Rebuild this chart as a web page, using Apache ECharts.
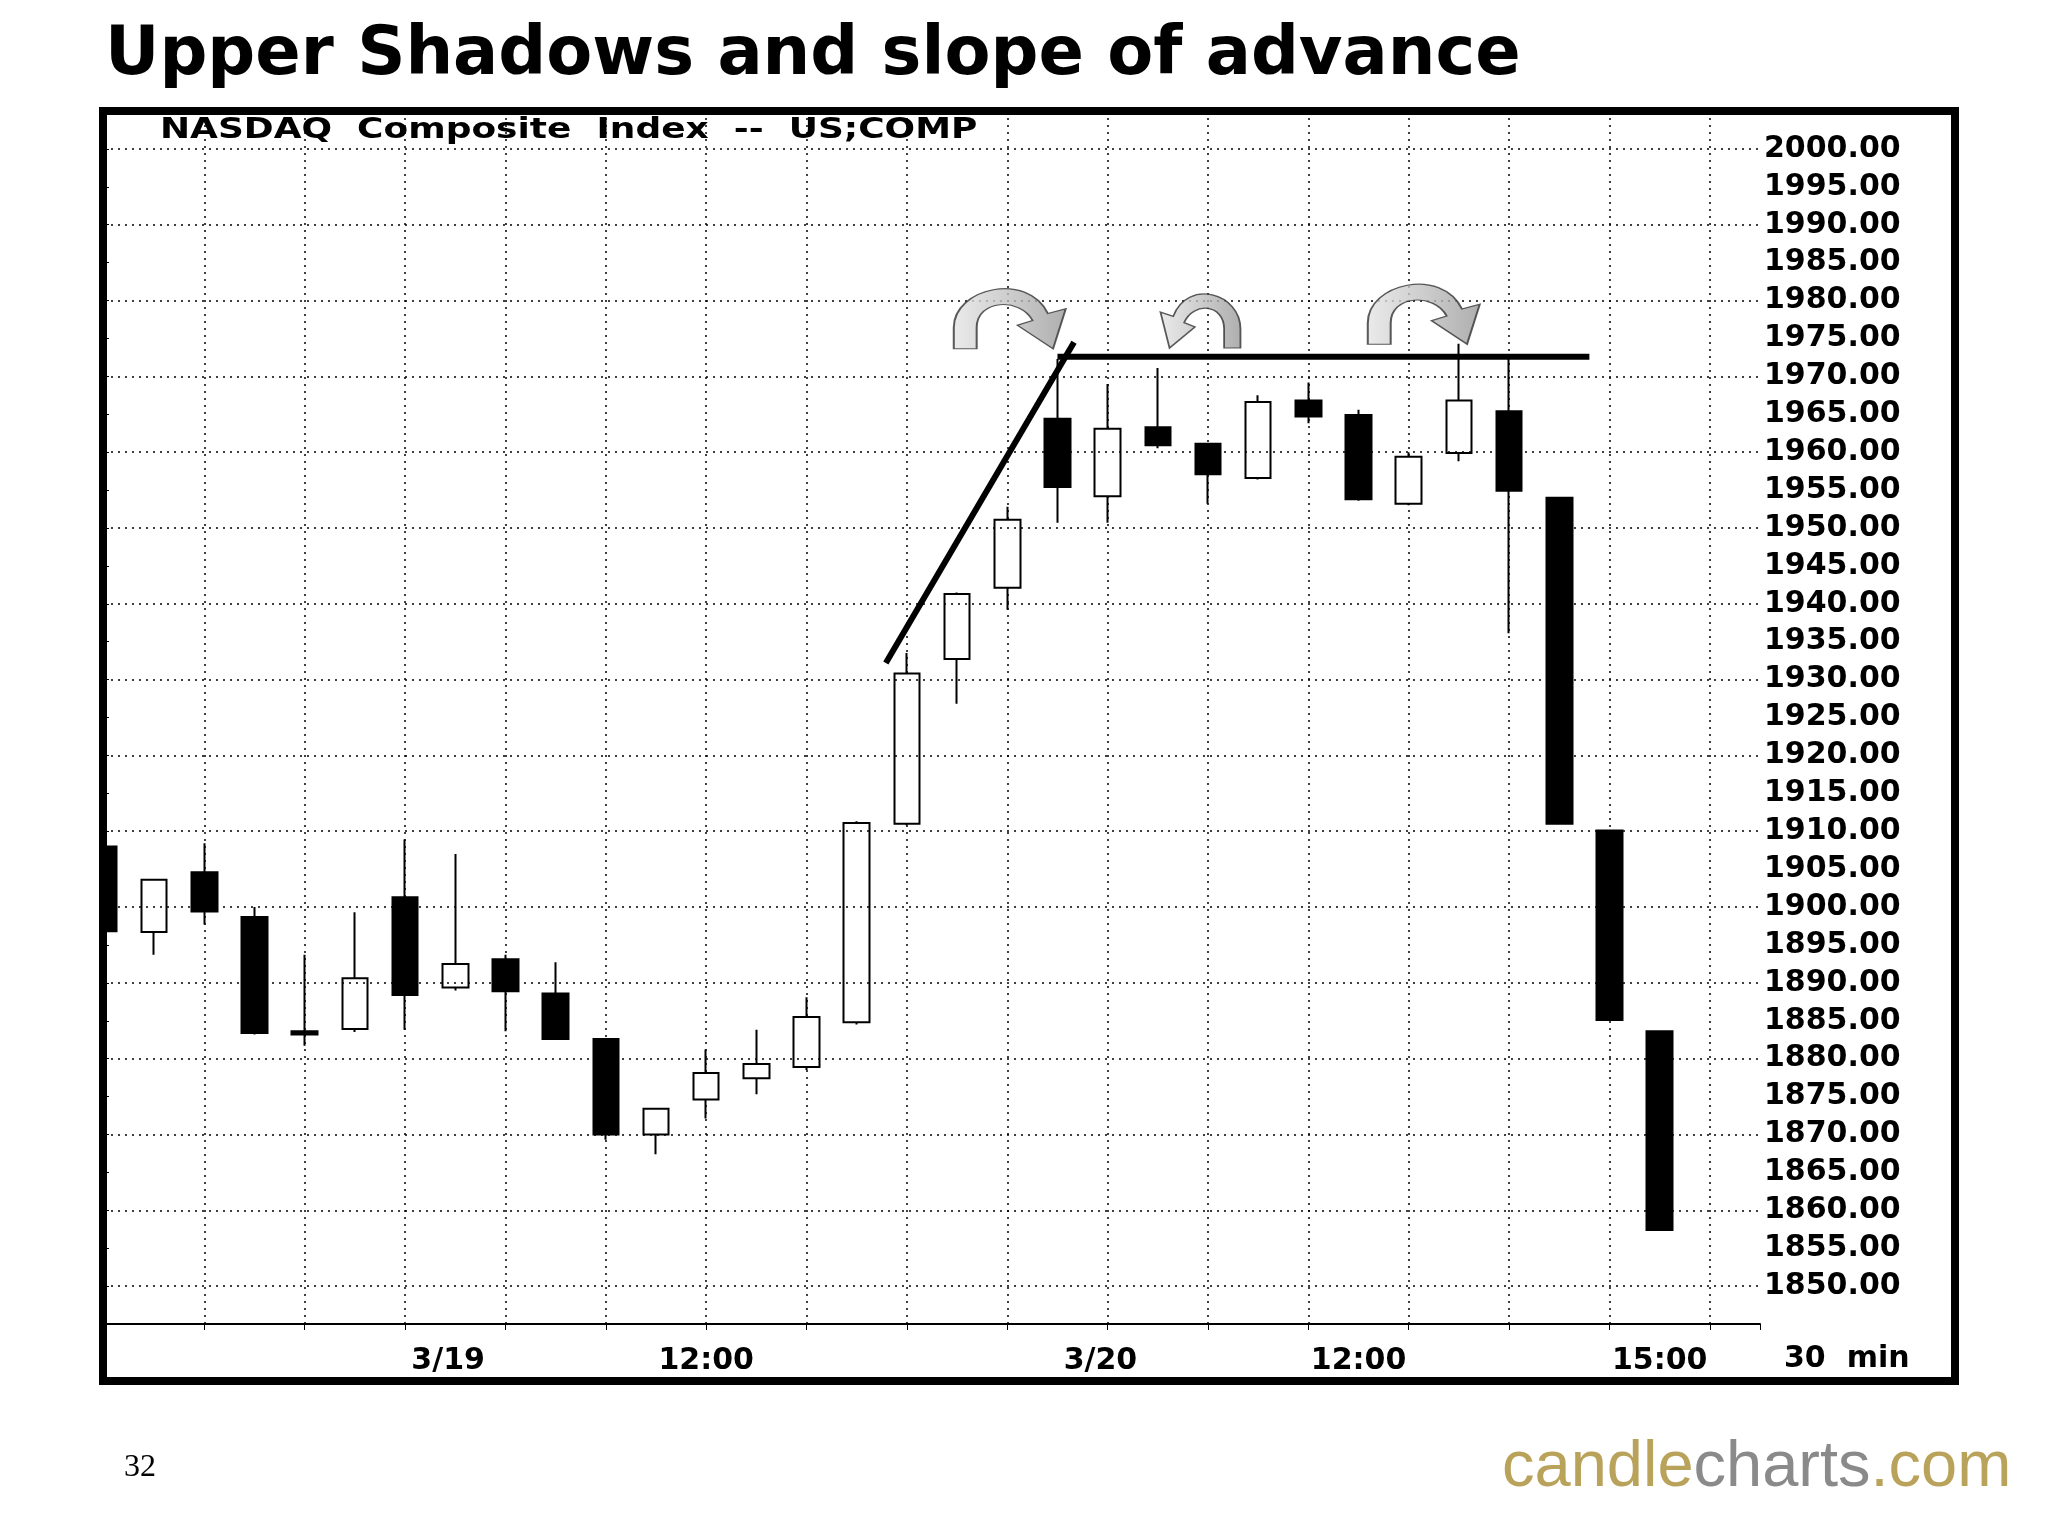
<!DOCTYPE html>
<html><head><meta charset="utf-8">
<script src="https://cdn.jsdelivr.net/npm/echarts@6/dist/echarts.min.js"></script>
<style>html,body{margin:0;padding:0;background:#fff}#c{width:2048px;height:1536px}</style>
</head><body><div id="c"></div>
<script>
// [open, close, low, high]
const candles = [
 [1908.0,1896.8,1896.5,1908.2],
 [1896.7,1903.6,1893.7,1903.6],
 [1904.6,1899.4,1897.7,1908.4],
 [1898.7,1883.4,1883.2,1900.0],
 [1883.6,1883.2,1881.7,1893.7],
 [1883.9,1890.6,1883.5,1899.3],
 [1901.3,1888.4,1883.8,1908.9],
 [1889.4,1892.5,1889.0,1907.0],
 [1893.1,1888.9,1883.6,1893.7],
 [1888.6,1882.6,1882.5,1892.7],
 [1882.6,1870.0,1869.3,1882.6],
 [1870.0,1873.4,1867.4,1873.4],
 [1874.6,1878.1,1872.1,1881.2],
 [1877.4,1879.3,1875.3,1883.8],
 [1878.9,1885.5,1878.5,1888.1],
 [1884.8,1911.1,1884.5,1911.3],
 [1911.0,1930.8,1910.8,1933.5],
 [1932.7,1941.3,1926.8,1941.5],
 [1942.1,1951.1,1939.2,1952.8],
 [1964.4,1955.4,1950.7,1972.3],
 [1954.2,1963.1,1950.7,1969.0],
 [1963.3,1960.9,1960.5,1971.1],
 [1961.1,1957.1,1953.2,1961.1],
 [1956.6,1966.6,1956.4,1967.5],
 [1966.8,1964.7,1963.8,1969.2],
 [1964.9,1953.8,1953.6,1965.6],
 [1953.2,1959.4,1953.0,1960.0],
 [1959.9,1966.8,1958.8,1974.3],
 [1965.4,1954.9,1936.1,1972.3],
 [1954.0,1911.0,1911.0,1954.0],
 [1910.1,1885.1,1885.1,1910.1],
 [1883.6,1857.4,1857.4,1883.6]
];
const xLabels = ['','','','','','','3/19','','','','','','12:00','','','','','','','3/20','','','','','','12:00','','','','','','15:00','',''];
const dateLabels = ['3/19','3/20'];
const gridLevels = [1850,1860,1870,1880,1890,1900,1910,1920,1930,1940,1950,1960,1970,1980,1990,2000];
const trendLine = [[15.58,1932.2],[19.33,1974.5]];
const resistLine = [[19.0,1972.6],[29.6,1972.6]];
const arrowsRight = [[18.05,1977.6],[26.3,1978.2]];
const arrowsLeft = [[21.85,1977.3]];

const pathR = 'path://M0,60 L0,42 C0,8 58,-6 74,30 L88,26 L78,60 L50,40 L62,36 C52,16 18,18 18,42 L18,60 Z';
const pathL = 'path://M100,60 L100,42 C100,8 42,-6 26,30 L12,26 L22,60 L50,40 L38,36 C48,16 82,18 82,42 L82,60 Z';
const arrowStyle = {color:{type:'linear',x:0,y:0,x2:1,y2:0,colorStops:[{offset:0,color:'#e6e6e6'},{offset:1,color:'#9a9a9a'}]},borderColor:'#333',borderWidth:1.5};
const lblFont = {color:'#000',fontFamily:'DejaVu Sans',fontWeight:'bold',fontSize:30};

const chart = echarts.init(document.getElementById('c'));
chart.setOption({
 animation:false,
 backgroundColor:'#fff',
 title:{text:'Upper Shadows and slope of advance',left:100,top:18,textStyle:{fontFamily:'DejaVu Sans',fontWeight:'bold',fontSize:67,color:'#000'}},
 graphic:[
  {type:'rect',z:100,shape:{x:103,y:111,width:1852,height:1270},style:{fill:'none',stroke:'#000',lineWidth:8}},
  {type:'rect',z:99,shape:{x:40,y:111,width:60,height:1270},style:{fill:'#fff'}},
  {type:'text',x:160,y:116,scaleX:1.24,style:{text:'NASDAQ  Composite  Index  --  US;COMP',font:'bold 29px "DejaVu Sans"',fill:'#000'}},
  {type:'text',left:1784,top:1344,style:{text:'30  min',font:'bold 30px "DejaVu Sans"',fill:'#000'}},
  {type:'text',left:124,top:1452,style:{text:'32',font:'32px "Liberation Serif"',fill:'#000'}},
  {type:'text',left:1502,top:1436,style:{rich:{a:{font:'65px "Liberation Sans"',fill:'#b9a25a'},b:{font:'65px "Liberation Sans"',fill:'#8a8a8a'}},text:'{a|candle}{b|charts}{a|.com}'}}
 ],
 grid:{left:104,right:288,top:111,bottom:212,show:false},
 xAxis:[
  {type:'category',data:xLabels,boundaryGap:false,
   axisLine:{lineStyle:{color:'#000',width:2}},
   axisTick:{show:true,interval:1,length:6,lineStyle:{color:'#000'}},
   axisLabel:Object.assign({interval:0,margin:22,
     formatter:v=>dateLabels.includes(v)?'{l|'+v+'}':v,rich:{l:Object.assign({padding:[0,0,0,86]},lblFont)}},lblFont),
   splitLine:{show:true,interval:i=>i>0&&i%2===0,lineStyle:{color:'#000',type:[2,5],width:1.5}}},
  {type:'value',min:0,max:33,show:false}
 ],
 yAxis:{type:'value',position:'right',min:1845,max:2005,interval:5,
   axisLine:{show:true,lineStyle:{color:'#000',width:2}},
   axisTick:{show:true,length:5,lineStyle:{color:'#000'}},
   axisLabel:Object.assign({margin:4,formatter:v=>(v<1850||v>2000)?'':v.toFixed(2)},lblFont),
   splitLine:{show:false}},
 series:[
  {type:'candlestick',data:candles,barWidth:26,clip:true,
   itemStyle:{color:'#fff',color0:'#000',borderColor:'#000',borderColor0:'#000',borderWidth:2},
   markLine:{silent:true,symbol:'none',label:{show:false},lineStyle:{color:'#000',type:[2,5],width:1.5},
     data:gridLevels.map(v=>({yAxis:v}))}},
  {type:'line',xAxisIndex:1,data:trendLine,symbol:'none',lineStyle:{color:'#000',width:6},z:5},
  {type:'line',xAxisIndex:1,data:resistLine,symbol:'none',lineStyle:{color:'#000',width:6},z:5},
  {type:'scatter',xAxisIndex:1,data:arrowsRight,symbol:pathR,symbolSize:[112,60],itemStyle:arrowStyle,z:6},
  {type:'scatter',xAxisIndex:1,data:arrowsLeft,symbol:pathL,symbolSize:[80,54],itemStyle:arrowStyle,z:6}
 ]
});
</script></body></html>
